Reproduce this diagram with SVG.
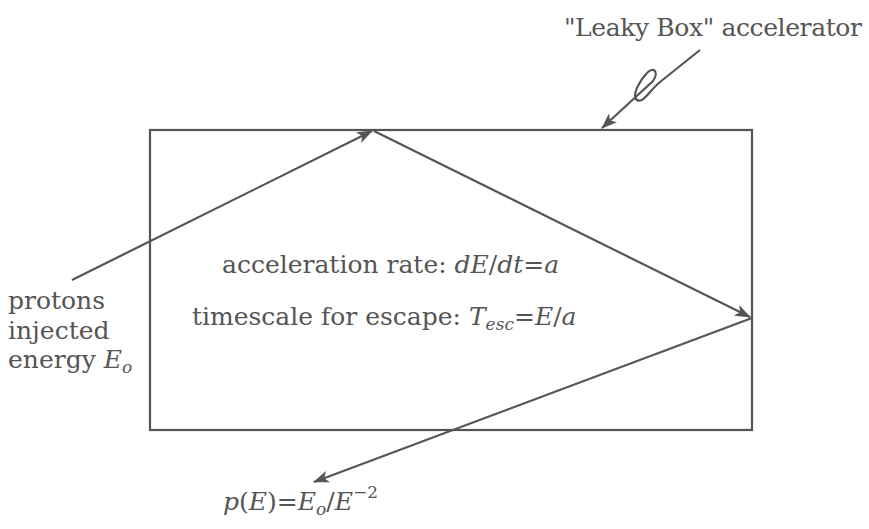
<svg xmlns="http://www.w3.org/2000/svg" width="869" height="529" viewBox="0 0 869 529">
<defs>
<marker id="ah" markerWidth="16" markerHeight="12" refX="15" refY="6" orient="auto" markerUnits="userSpaceOnUse">
<path d="M0,0 L16,6 L0,12 L4,6 Z" fill="#555"/>
</marker>
</defs>
<style>
.ln{stroke:#555;stroke-width:2.2;fill:none}
.t{font-family:"DejaVu Serif","Liberation Serif",serif;font-size:25px;fill:#555}
.i{font-style:italic}
</style>
<rect width="869" height="529" fill="#fff"/>
<g id="box"><rect x="150" y="130" width="602" height="300" class="ln"/></g>
<g id="connectors">
<line x1="72" y1="280" x2="372" y2="131" class="ln" marker-end="url(#ah)"/>
<line x1="374" y1="131" x2="750" y2="317" class="ln" marker-end="url(#ah)"/>
<line x1="752" y1="318" x2="314" y2="482" class="ln" marker-end="url(#ah)"/>
<path d="M700,50 L660,82 C650,90 643,104 637,100 C631,96 640,80 647,73 C654,66 659,72 653,81 L602,128" class="ln" marker-end="url(#ah)"/>
</g>
<g id="title"><text class="t" x="564" y="36" textLength="298">"Leaky Box" accelerator</text></g>
<g id="rate"><text class="t" x="222" y="273">acceleration rate: <tspan class="i">dE</tspan>/<tspan class="i">dt</tspan>=<tspan class="i">a</tspan></text></g>
<g id="escape"><text class="t" x="192" y="325">timescale for escape: <tspan class="i">T</tspan><tspan class="i" font-size="17" dy="5">esc</tspan><tspan dy="-5">=</tspan><tspan class="i">E</tspan>/<tspan class="i">a</tspan></text></g>
<g id="protons"><text class="t" x="8" y="309">protons</text><text class="t" x="8" y="339">injected</text><text class="t" x="8" y="368">energy <tspan class="i">E</tspan><tspan class="i" font-size="17" dy="5">o</tspan></text></g>
<g id="pE"><text class="t" x="223" y="510"><tspan class="i">p</tspan>(<tspan class="i">E</tspan>)=<tspan class="i">E</tspan><tspan class="i" font-size="17" dy="5">o</tspan><tspan dy="-5">/</tspan><tspan class="i">E</tspan><tspan font-size="17" dy="-12">−2</tspan></text></g>
</svg>
